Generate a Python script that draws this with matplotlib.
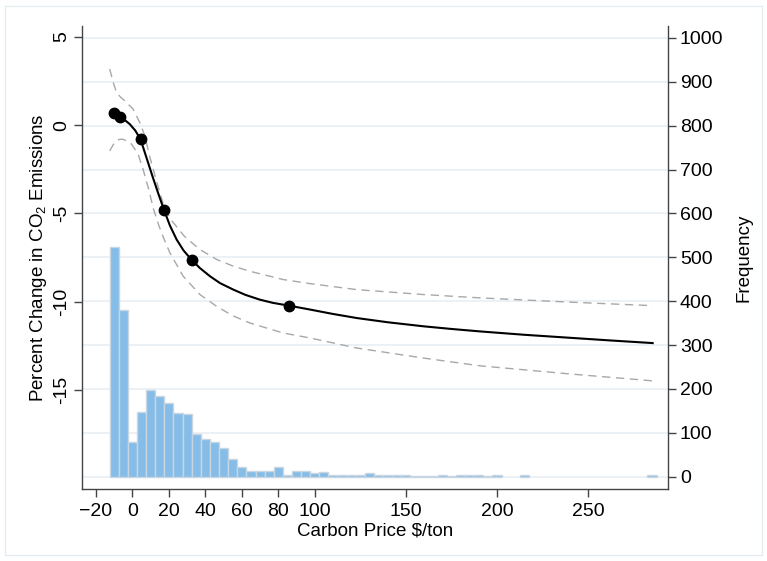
import matplotlib
matplotlib.use("Agg")
import matplotlib.pyplot as plt
from matplotlib.patches import Rectangle

plt.rcParams['font.family'] = ['Liberation Sans', 'DejaVu Sans']
plt.rcParams['mathtext.fontset'] = 'custom'
plt.rcParams['mathtext.rm'] = 'Liberation Sans'
plt.rcParams['mathtext.it'] = 'Liberation Sans'

# Histogram of carbon prices (bin centres, width 5)
bin_centers = [-10, -5, 0, 5, 10, 15, 20, 25, 30, 35, 40, 45, 50, 55, 60, 65, 70, 75,
               80, 85, 90, 95, 100, 105, 110, 115, 120, 125, 130, 135, 140, 145, 150,
               155, 160, 165, 170, 175, 180, 185, 190, 195, 200, 215, 285]
counts = [523, 381, 78, 148, 198, 184, 167, 146, 143, 97, 87, 78, 66, 40, 23, 13, 14, 12,
          21, 5, 13, 14, 8, 10, 4, 4, 4, 4, 9, 4, 4, 4, 3,
          1, 1, 1, 3, 1, 4, 4, 4, 1, 5, 3, 5]

# Fitted curve
fit_x = [-12, -10.1, -7.0, -4.0, -1.5, 1.5, 4.4, 7.7, 11.3, 14.5, 17.4, 20.5, 24.2, 28.0,
         32.4, 37.0, 42.5, 48.0, 55.3, 62.0, 69.9, 77.0, 85.9, 97.4, 110.0, 123.0, 140.0,
         159.7, 175.0, 190.8, 215.0, 240.0, 262.0, 285.4]
fit_y = [0.74, 0.665, 0.44, 0.27, 0.06, -0.30, -0.80, -1.85, -3.00, -3.98, -4.83, -5.68,
         -6.48, -7.10, -7.63, -8.10, -8.56, -8.95, -9.32, -9.62, -9.89, -10.07, -10.23,
         -10.45, -10.70, -10.93, -11.17, -11.40, -11.55, -11.69, -11.88, -12.05, -12.20, -12.35]

# Highlighted points
pt_x = [-10.1, -7.0, 4.4, 17.4, 32.4, 85.9]
pt_y = [0.665, 0.44, -0.80, -4.83, -7.63, -10.23]

# Confidence bands
up_x = [-12.5, -10.5, -8.8, -6.5, -4.2, 0.3, 4.0, 6.8, 9.5, 13.5, 17.0, 21.0, 28.5, 37.0,
        46.2, 55.0, 64.4, 82.7, 97.4, 123.0, 159.7, 190.8, 240.0, 285.4]
up_y = [3.18, 2.40, 1.86, 1.58, 1.38, 0.91, 0.15, -0.61, -1.80, -3.30, -4.50, -5.35, -6.30,
        -7.05, -7.61, -7.98, -8.28, -8.75, -8.98, -9.32, -9.60, -9.79, -10.03, -10.23]
lo_x = [-12.5, -10.5, -8.8, -7.0, -5.2, -3.0, -0.5, 3.1, 5.8, 8.8, 11.5, 14.5, 17.5, 20.5,
        27.8, 37.0, 46.2, 55.0, 64.4, 82.7, 97.4, 123.0, 159.7, 190.8, 240.0, 285.4]
lo_y = [-1.46, -1.10, -0.89, -0.80, -0.80, -0.90, -1.08, -1.65, -2.50, -3.60, -4.75, -5.70,
        -6.50, -7.23, -8.56, -9.60, -10.27, -10.80, -11.21, -11.78, -12.06, -12.63, -13.20,
        -13.64, -14.10, -14.49]

left_ticks = [5, 0, -5, -10, -15]
right_ticks = [0, 100, 200, 300, 400, 500, 600, 700, 800, 900, 1000]
x_ticks = [-20, 0, 20, 40, 60, 80, 100, 150, 200, 250]

FS = 13.5
TS = 14

fig = plt.figure(figsize=(7.67, 5.61), dpi=100)
fig.patch.set_facecolor('white')
fig.patches.append(Rectangle((5 / 767, 6 / 561), 757 / 767, 549 / 561, transform=fig.transFigure,
                             fill=False, edgecolor='#e6edf1', lw=1.0))

ax = fig.add_axes([82 / 767, 1 - 489 / 561, 586 / 767, 463 / 561])
ax2 = ax.twinx()

spine_col = '#444444'

# Histogram on right axis
ax2.bar(bin_centers, counts, width=5, color='#85bde8', edgecolor='#c8d6e2', linewidth=1.0,
        zorder=2)
ax2.set_ylim(-28, 1027)
ax2.set_yticks(right_ticks)
ax2.grid(axis='y', color='#e8eff3', linewidth=1.2, zorder=0)
ax2.set_axisbelow(True)
ax2.set_ylabel('Frequency', fontsize=FS, labelpad=9)

# Curve on left axis, drawn above histogram
ax.set_zorder(ax2.get_zorder() + 1)
ax.patch.set_visible(False)
ax.plot(up_x, up_y, color='#a8a8a8', lw=1.0, dashes=(6, 4))
ax.plot(lo_x, lo_y, color='#a8a8a8', lw=1.0, dashes=(6, 4))
ax.plot(fit_x, fit_y, color='black', lw=1.5)
ax.plot(pt_x, pt_y, 'o', color='black', markersize=7.5)
ax.set_ylim(-20.62, 5.62)
ax.set_xlim(-27.7, 293.8)
ax.set_yticks(left_ticks)
ax.set_yticklabels([str(t) for t in left_ticks], rotation=90, va='center')
ax.set_xticks(x_ticks)
ax.set_ylabel('Percent Change in CO$_2$ Emissions', fontsize=FS, labelpad=3)
ax.set_xlabel(r'Carbon Price \$/ton', fontsize=FS, labelpad=2)

for a in (ax, ax2):
    a.tick_params(axis='both', labelsize=TS, length=6, width=1.0, color=spine_col,
                  direction='out', pad=2.5)
    for s in a.spines.values():
        s.set_color(spine_col)
        s.set_linewidth(1.0)
    a.spines['top'].set_visible(False)
ax.tick_params(axis='x', pad=4)
ax.spines['right'].set_visible(False)
ax2.spines['left'].set_visible(False)
ax2.spines['bottom'].set_visible(False)

fig.savefig('out.png', dpi=100)
